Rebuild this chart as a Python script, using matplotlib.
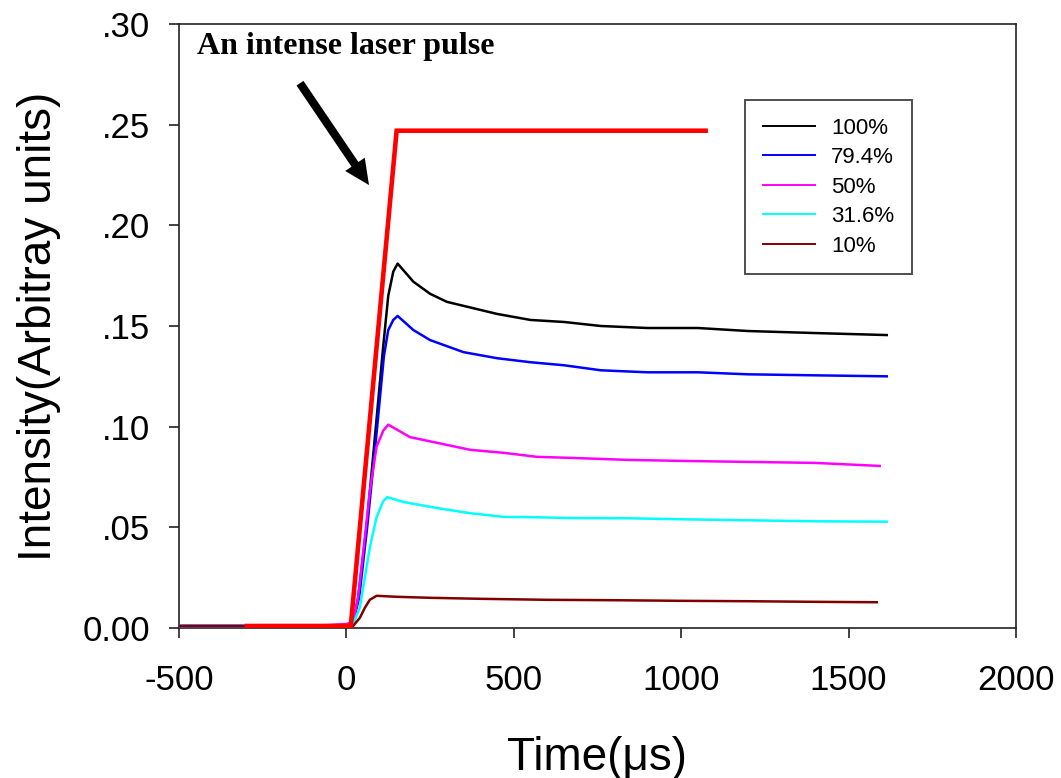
import matplotlib
matplotlib.use("Agg")
import matplotlib.pyplot as plt
from matplotlib.patches import ArrowStyle

plt.rcParams['font.family'] = ['Liberation Sans', 'DejaVu Sans']

# ---------------- data ----------------
legend_labels = ["100%", "79.4%", "50%", "31.6%", "10%"]
series_colors = ["#000000", "#0000FF", "#FF00FF", "#00FFFF", "#800000"]

t_100 = [-500, -300, -100, 0, 20, 35, 60, 88, 110, 125, 140, 153,
         200, 250, 300, 350, 450, 550, 650, 760, 900, 1050, 1200, 1400, 1614]
v_100 = [0.001, 0.001, 0.001, 0.001, 0.003, 0.015, 0.050, 0.100, 0.140, 0.165, 0.177, 0.181,
         0.172, 0.166, 0.162, 0.160, 0.156, 0.153, 0.152, 0.150, 0.149, 0.149, 0.1475, 0.1465, 0.1455]

t_794 = [-500, -300, -100, 0, 20, 38, 62, 92, 112, 125, 140, 153,
         200, 250, 300, 350, 450, 550, 650, 760, 900, 1050, 1200, 1400, 1614]
v_794 = [0.001, 0.001, 0.001, 0.001, 0.003, 0.015, 0.050, 0.100, 0.135, 0.148, 0.153, 0.155,
         0.148, 0.143, 0.140, 0.137, 0.134, 0.132, 0.1305, 0.128, 0.127, 0.127, 0.126, 0.1255, 0.125]

t_50 = [-500, -300, -100, 0, 20, 35, 55, 70, 90, 110, 125,
        190, 270, 370, 470, 570, 670, 840, 1000, 1200, 1400, 1593]
v_50 = [0.001, 0.001, 0.001, 0.002, 0.003, 0.015, 0.045, 0.068, 0.090, 0.098, 0.101,
        0.0948, 0.092, 0.0885, 0.087, 0.085, 0.0845, 0.0835, 0.083, 0.0825, 0.082, 0.0805]

t_316 = [-500, -300, -100, 0, 20, 40, 55, 70, 90, 110, 122,
         170, 270, 370, 470, 570, 670, 840, 1000, 1200, 1400, 1614]
v_316 = [0.001, 0.001, 0.001, 0.001, 0.002, 0.010, 0.025, 0.040, 0.055, 0.063, 0.065,
         0.0626, 0.0596, 0.057, 0.0552, 0.055, 0.0546, 0.0545, 0.054, 0.0535, 0.053, 0.0528]

t_10 = [-500, -300, -100, 0, 20, 40, 55, 70, 90,
        150, 250, 400, 600, 800, 1000, 1200, 1400, 1584]
v_10 = [0.001, 0.001, 0.001, 0.001, 0.001, 0.005, 0.010, 0.014, 0.016,
        0.0155, 0.015, 0.0145, 0.014, 0.0138, 0.0135, 0.0133, 0.013, 0.0128]

t_pulse = [-297, 13, 150, 1073]
v_pulse = [0.001, 0.001, 0.247, 0.247]

series_t = [t_100, t_794, t_50, t_316, t_10]
series_v = [v_100, v_794, v_50, v_316, v_10]

x_ticks = [-500, 0, 500, 1000, 1500, 2000]
y_ticks = [0.00, 0.05, 0.10, 0.15, 0.20, 0.25, 0.30]
y_tick_labels = ["0.00", ".05", ".10", ".15", ".20", ".25", ".30"]

annotation_text = "An intense laser pulse"

# ---------------- figure ----------------
W, H = 1061, 778
fig = plt.figure(figsize=(W / 100, H / 100), dpi=100)
ax = fig.add_axes([179 / W, 1 - 628 / H, 837 / W, 604 / H])

for t, v, c, lab in zip(series_t, series_v, series_colors, legend_labels):
    ax.plot(t, v, color=c, lw=1.8, label=lab, zorder=3)

ax.plot(t_pulse, v_pulse, color="#FF0000", lw=3.3, zorder=4, solid_joinstyle='miter')

ax.set_xlim(-500, 2000)
ax.set_ylim(0, 0.30)
ax.set_xticks(x_ticks)
ax.set_xticklabels([str(x) for x in x_ticks])
ax.set_yticks(y_ticks)
ax.set_yticklabels(y_tick_labels)

ax.tick_params(axis='both', direction='out', length=7, width=1.2, labelsize=25,
               top=False, right=False, colors='#222222', labelcolor='black')
ax.tick_params(axis='x', pad=19)
ax.tick_params(axis='y', pad=14)
for sp in ax.spines.values():
    sp.set_linewidth(1.2)
    sp.set_color("#222222")

ax.set_xlabel("Time(\u03bcs)", fontsize=33, labelpad=28)
ax.set_ylabel("Intensity(Arbitray units)", fontsize=33, labelpad=15)

leg = ax.legend(loc='upper left', bbox_to_anchor=(745 / W, 1 - 100 / H),
                bbox_transform=fig.transFigure, borderaxespad=0,
                fontsize=16, frameon=True, fancybox=False, shadow=False,
                handlelength=2.35, handletextpad=0.72, borderpad=0.8,
                labelspacing=0.38)
leg.get_frame().set_edgecolor("#222222")
leg.get_frame().set_linewidth(1.4)
for line in leg.get_lines():
    line.set_linewidth(1.4)

ax.text(-445, 0.285, annotation_text, fontsize=23, fontweight='bold',
        family=['Liberation Serif', 'DejaVu Serif'], ha='left', va='baseline')

ax.annotate("", xy=(67.5, 0.220), xytext=(-138.6, 0.2706),
            xycoords='data', textcoords='data',
            arrowprops=dict(arrowstyle=ArrowStyle("simple", head_length=18,
                                                  head_width=17, tail_width=6),
                            mutation_scale=1, color='black', lw=0,
                            shrinkA=0, shrinkB=0))

fig.savefig("out.png", dpi=100)
